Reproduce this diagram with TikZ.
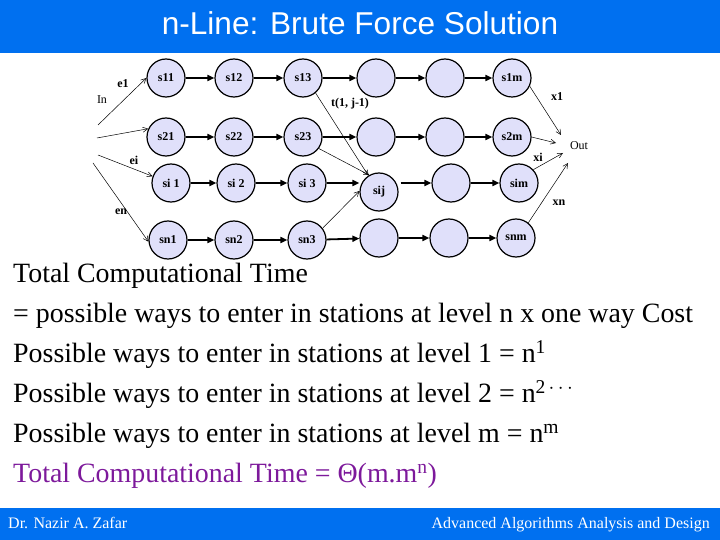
\documentclass[tikz,border=0pt]{standalone}
\usepackage{fontspec}
\setmainfont{Liberation Serif}
\newfontfamily\titlefont{Liberation Sans}
\usetikzlibrary{arrows.meta,calc}
\definecolor{barblue}{RGB}{0,112,240}
\definecolor{circfill}{RGB}{224,224,250}
\definecolor{purp}{RGB}{125,25,155}
\begin{document}
\begin{tikzpicture}[x=1pt,y=-1pt,
 stn/.style={circle,draw=black,line width=1.2pt,fill=circfill,minimum size=38pt,inner sep=0pt,font=\fontsize{12}{13}\selectfont\bfseries},
 flow/.style={line width=1.8pt,-{Triangle[length=7pt,width=6pt]}},
 thinarr/.style={line width=0.5pt,-{Straight Barb[length=5pt,width=5pt]}},
 lab/.style={font=\fontsize{12}{13}\selectfont\bfseries,inner sep=0pt},
 plainlab/.style={font=\fontsize{12}{13}\selectfont,inner sep=0pt},
 body/.style={anchor=base west,inner sep=0pt,font=\fontsize{27.9}{30}\selectfont}]
\useasboundingbox (0,0) rectangle (720,540);
\fill[barblue] (0,0) rectangle (720,53);
\fill[barblue] (0,508) rectangle (720,540);
\node[anchor=base,text=white,inner sep=0pt,font=\titlefont\fontsize{31.6}{33}\selectfont] (title) at (360,35) {n-Line: Brute Force Solution};
\node[anchor=base west,text=white,inner sep=0pt,font=\fontsize{16}{18}\selectfont] (author) at (8,528) {Dr. Nazir A. Zafar};
\node[anchor=base east,text=white,inner sep=0pt,font=\fontsize{16}{18}\selectfont] (course) at (710,528) {Advanced Algorithms Analysis and Design};

% row 1
\node[stn] (s11) at (166,78) {s11};
\node[stn] (s12) at (234,78) {s12};
\node[stn] (s13) at (303,78) {s13};
\node[stn] (c14) at (376,78) {};
\node[stn] (c15) at (445,78) {};
\node[stn] (s1m) at (512,78) {s1m};
% row 2
\node[stn] (s21) at (166,137) {s21};
\node[stn] (s22) at (234,137) {s22};
\node[stn] (s23) at (303,137) {s23};
\node[stn] (c24) at (376,137) {};
\node[stn] (c25) at (445,137) {};
\node[stn] (s2m) at (512,137) {s2m};
% row 3
\node[stn] (si1) at (171,183) {si 1};
\node[stn] (si2) at (236,183) {si 2};
\node[stn] (si3) at (307,183) {si 3};
\node[stn] (sij) at (379,192) {sij};
\node[stn] (c35) at (451,183) {};
\node[stn] (sim) at (519,183) {sim};
% row 4
\node[stn] (sn1) at (168,240) {sn1};
\node[stn] (sn2) at (234,240) {sn2};
\node[stn] (sn3) at (307,240) {sn3};
\node[stn] (c44) at (379,238) {};
\node[stn] (c45) at (449,238) {};
\node[stn] (snm) at (516,238) {snm};

% thick flow arrows
\draw[flow] (s11) -- (s12);
\draw[flow] (s12) -- (s13);
\draw[flow] (s13) -- (c14);
\draw[flow] (c14) -- (c15);
\draw[flow] (c15) -- (s1m);
\draw[flow] (s21) -- (s22);
\draw[flow] (s22) -- (s23);
\draw[flow] (s23) -- (c24);
\draw[flow] (c24) -- (c25);
\draw[flow] (c25) -- (s2m);
\draw[flow] (si1) -- (si2);
\draw[flow] (si2) -- (si3);
\draw[flow] (si3.east) -- (si3 -| sij.west);
\draw[flow] (c35 -| sij.east) ++(2,0) -- (c35.west);
\draw[flow] (c35) -- (sim);
\draw[flow] (sn1) -- (sn2);
\draw[flow] (sn2) -- (sn3);
\draw[flow] (sn3) -- (c44);
\draw[flow] (c44) -- (c45);
\draw[flow] (c45) -- (snm);

% inputs
\coordinate (i1) at (98,125);
\coordinate (i2) at (97,138);
\coordinate (i3) at (98,155);
\coordinate (i4) at (93,163);
\draw[thinarr] (i1) -- (s11.west);
\draw[thinarr] (i2) -- (s21.155);
\draw[thinarr] (i3) -- (si1.160);
\draw[thinarr] (i4) -- (sn1.185);

% outputs
\coordinate (o1) at (561,135);
\coordinate (o2) at (556,143);
\coordinate (o3) at (563,153);
\coordinate (o4) at (568,163);
\draw[thinarr] (s1m.-25) -- (o1);
\draw[thinarr] (s2m.east) -- (o2);
\draw[thinarr] (sim.43) -- (o3);
\draw[thinarr] (snm.51) -- (o4);

% into sij
\draw[thinarr] (s13.-50) -- (sij.123);
\draw[thinarr] (s23.-36) -- (sij.120);
\draw[thinarr] (sn3.37) -- (sij.177);

% labels
\node[lab] (le1) at (123,84) {e1};
\node[plainlab] (lin) at (102,100) {In};
\node[lab] (lt) at (350,104) {t(1, j-1)};
\node[lab] (lx1) at (557,97) {x1};
\node[plainlab] (lout) at (579,146) {Out};
\node[lab] (lei) at (134,160) {ei};
\node[lab] (lxi) at (538,157) {xi};
\node[lab] (len) at (121,212) {en};
\node[lab] (lxn) at (559,203) {xn};

% text block
\node[body] (t1) at (13,282.5) {Total Computational Time};
\node[body] (t2) at (13,322.5) {= possible ways to enter in stations at level n x one way Cost};
\node[body] (t3) at (13,362.5) {Possible ways to enter in stations at level 1 = n\textsuperscript{1}};
\node[body] (t4) at (13,402.5) {Possible ways to enter in stations at level 2 = n\textsuperscript{2\,$\cdots$}};
\node[body] (t5) at (13,442.5) {Possible ways to enter in stations at level m = n\textsuperscript{m}};
\node[body,text=purp] (t6) at (13,482.5) {Total Computational Time = Θ(m.m\textsuperscript{n})};
\end{tikzpicture}
\end{document}
